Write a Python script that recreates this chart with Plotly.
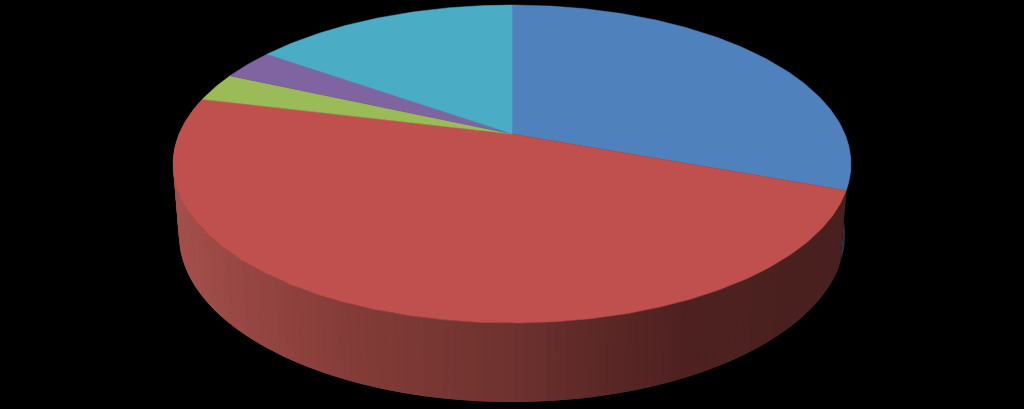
import math
import plotly.graph_objects as go

labels = ["A", "B", "C", "D", "E"]
values = [30.6, 48.2, 2.9, 3.1, 15.2]
colors = ["#4F81BD", "#C0504D", "#9BBB59", "#8064A2", "#4BACC6"]
wall_dark_blue = "#2A3446"

CX = 512
TOP_APEX, TOP_A, TOP_B = 134, 153.3, 332.9
TILT = 0.1887
BOT_APEX, BOT_RY, BOT_RX = 203.5, 167, 333
BOT_A = BOT_RY * (1 - TILT ** 2)
BOT_B = BOT_RX * math.sqrt(1 - TILT ** 2)

def top(theta):
    u, v = math.cos(theta), math.sin(theta)
    w = 1 + TILT * v
    return CX + TOP_B * u / w, TOP_APEX - TOP_A * v / w

def bottom(theta):
    u, v = math.cos(theta), math.sin(theta)
    w = 1 + TILT * v
    return CX + BOT_B * u / w, BOT_APEX - BOT_A * v / w

stops = [(170, (166, 80, 75)), (250, (150, 70, 66)), (350, (132, 60, 56)), (512, (110, 50, 47)),
         (600, (92, 40, 38)), (680, (78, 33, 32)), (850, (72, 32, 31))]

def wall_color(x):
    for (x0, c0), (x1, c1) in zip(stops, stops[1:]):
        if x <= x1:
            t = max(0, (x - x0) / (x1 - x0))
            return "rgb(%d,%d,%d)" % tuple(round(a + (b - a) * t) for a, b in zip(c0, c1))
    return "rgb(%d,%d,%d)" % stops[-1][1]

total = sum(values)
fig = go.Figure()
angles = [math.pi / 2]
for v in values:
    angles.append(angles[-1] - 2 * math.pi * v / total)

def poly(xs, ys, color):
    fig.add_trace(go.Scatter(x=xs, y=ys, mode="lines", fill="toself", fillcolor=color,
                             line=dict(color=color, width=0), hoverinfo="skip", showlegend=False))

# side wall: blue part at the right rim, then the red slice in overlapping bands
a0 = angles[1]
n = 12
xs, ys = [], []
for i in range(n + 1):
    t = a0 + (math.radians(5) - a0) * i / n
    x, y = top(t); xs.append(x); ys.append(y)
for i in range(n, -1, -1):
    t = a0 + (math.radians(5) - a0) * i / n
    x, y = bottom(t); xs.append(x); ys.append(y)
poly(xs, ys, wall_dark_blue)

bands = 120
s, e = angles[1], angles[2]
for i in range(bands):
    t0 = s + (e - s) * i / bands
    t1 = s + (e - s) * (i + 2) / bands if i < bands - 1 else e
    mid = s + (e - s) * (i + 0.5) / bands
    p = [top(t0), top(t1), bottom(t1), bottom(t0)]
    poly([q[0] for q in p], [q[1] for q in p], wall_color((top(mid)[0] + bottom(mid)[0]) / 2))

# top face slices
for i, c in enumerate(colors):
    a, b = angles[i], angles[i + 1]
    steps = max(8, int(abs(b - a) * 80))
    pts = [top(a + (b - a) * k / steps) for k in range(steps + 1)]
    xs = [CX] + [q[0] for q in pts] + [CX]
    ys = [TOP_APEX] + [q[1] for q in pts] + [TOP_APEX]
    fig.add_trace(go.Scatter(x=xs, y=ys, mode="lines", fill="toself", fillcolor=c,
                             line=dict(color=c, width=0.5), name=labels[i],
                             hoverinfo="name", showlegend=False))

fig.update_layout(width=1024, height=409, margin=dict(l=0, r=0, t=0, b=0),
                  paper_bgcolor="black", plot_bgcolor="black", showlegend=False,
                  xaxis=dict(range=[0, 1024], visible=False, fixedrange=True),
                  yaxis=dict(range=[409, 0], visible=False, fixedrange=True))
fig.write_html("out.html", config=dict(displayModeBar=False),
               default_width="1024px", default_height="409px",
               post_script="document.body.style.margin='0';document.body.style.background='black';")
